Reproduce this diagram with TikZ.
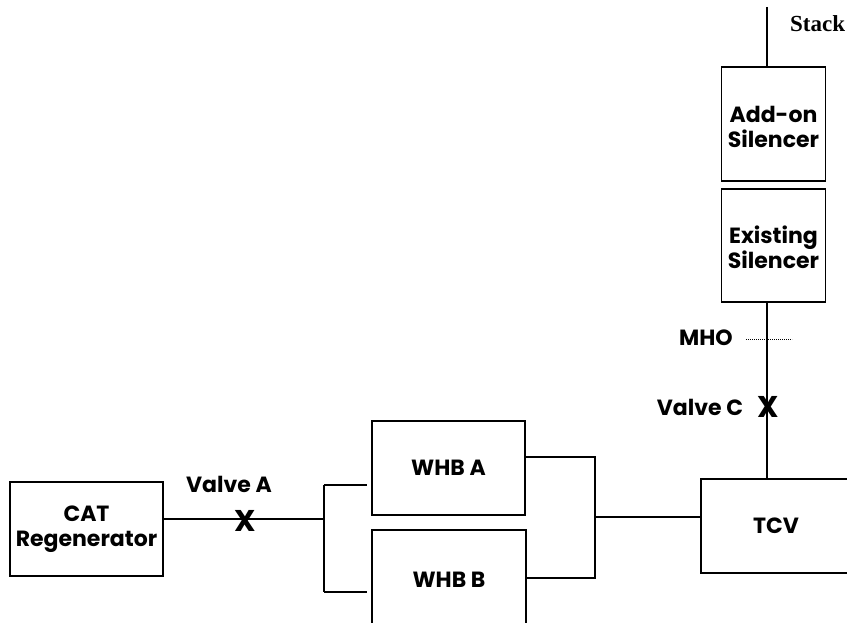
\documentclass[tikz,border=0pt]{standalone}
\usepackage{fontspec}
\setmainfont{Poppins}
\newfontfamily\stackfont{Liberation Serif}
\begin{document}
\begin{tikzpicture}[x=1pt,y=-1pt,
  line/.style={line width=1.2pt,black},
  box/.style={draw,line width=1.2pt,rectangle,inner sep=0pt,align=center,font=\bfseries\fontsize{22}{25.5}\selectfont},
  boxtext/.style={inner sep=0pt,align=center,font=\bfseries\fontsize{22}{25.5}\selectfont},
  lbl/.style={inner sep=0pt,font=\bfseries\fontsize{22}{25}\selectfont},
  valvex/.style={inner sep=0pt,font=\bfseries\fontsize{30}{30}\selectfont}]
\useasboundingbox (0,0) rectangle (847,623);
\clip (0,0) rectangle (847,623);
% boxes
\node[box,minimum width=153pt,minimum height=94pt] (cat) at (86.5,529) {CAT\\Regenerator};
\node[box,minimum width=153pt,minimum height=94pt] (whba) at (448.5,468) {WHB A};
\node[box,minimum width=154pt,minimum height=100pt] (whbb) at (449,580) {};
\node[boxtext] (whbbt) at (449,580) {WHB B};
\node[box,minimum width=150pt,minimum height=94pt] (tcv) at (776,526) {TCV};
\node[box,minimum width=104pt,minimum height=114pt] (addon) at (773.5,124) {};
\node[boxtext] (addont) at (773.5,127) {Add-on\\Silencer};
\node[box,minimum width=104pt,minimum height=113pt] (exist) at (773.5,245.5) {};
\node[boxtext] (existt) at (773.5,247.5) {Existing\\Silencer};
% coordinates
\coordinate (stacktop) at (767,7);
\coordinate (spl) at (324,519);
\coordinate (splt) at (324,485);
\coordinate (splb) at (324,592);
\coordinate (mrg) at (595,517);
\coordinate (mrgt) at (595,457);
\coordinate (mrgb) at (595,578);
% stack line
\draw[line] (stacktop) -- (stacktop |- addon.north);
\draw[line] (stacktop |- exist.south) -- (stacktop |- tcv.north);
\node[inner sep=0pt,font=\stackfont\bfseries\fontsize{23}{23}\selectfont,anchor=base west] (stack) at (790,32) {Stack};
% MHO
\node[lbl] (mho) at (706,338) {MHO};
\coordinate (mhoa) at (746,339);
\coordinate (mhob) at (792,339);
\draw[line width=0.6pt,dash pattern=on 0.8pt off 1.2pt] (mhoa) -- (mhob);
% Valve C
\node[lbl] (valvec) at (700,407) {Valve C};
\node[valvex] (xc) at (768,407) {X};
% CAT to splitter
\draw[line] (cat.east |- spl) -- (spl);
\node[valvex] (xa) at (245,521) {X};
\node[lbl] (valvea) at (229,484) {Valve A};
% splitter
\draw[line] (splt) -- (splb);
\draw[line] (splt) -- (367,485);
\draw[line] (splb) -- (367,592);
% merger
\draw[line] (whba.east |- mrgt) -- (mrgt) -- (mrgb) -- (whbb.east |- mrgb);
\draw[line] (mrg) -- (tcv.west |- mrg);
\end{tikzpicture}
\end{document}
